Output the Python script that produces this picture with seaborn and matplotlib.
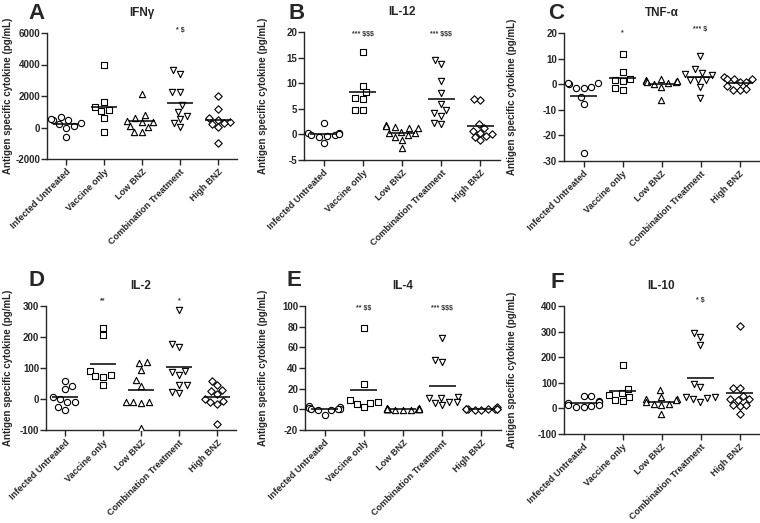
import warnings
import numpy as np
import pandas as pd
import matplotlib
matplotlib.use("Agg")
import matplotlib.pyplot as plt
import seaborn as sns

warnings.filterwarnings("ignore")
sns.set_style("ticks")
plt.rcParams["font.family"] = ["Liberation Sans", "DejaVu Sans"]
plt.rcParams["font.weight"] = "bold"
plt.rcParams["axes.unicode_minus"] = False

groups = ["Infected Untreated", "Vaccine only", "Low BNZ", "Combination Treatment", "High BNZ"]
markers = ["o", "s", "^", "v", "D"]

ifng = [[650, 500, 450, 550, 300, 200, 100, 0, -600],
        [3940, 1590, 1120, 1290, 1020, 590, -275],
        [2140, 590, 380, 380, 420, 805, 20, 100, -275, -275],
        [3410, 3620, 2245, 2245, 1400, 1015, 740, 570, 275, 20],
        [1970, 1190, 590, 380, 490, 275, 230, 60, -955]]
il12 = [[2.3, 0.2, -0.3, -0.2, 0.2, -0.1, -0.5, -1.6, 0.0],
        [16.0, 9.5, 8.2, 7.2, 6.9, 4.8, 4.8],
        [1.8, 1.5, 1.2, 1.3, 1.6, 0.3, 0.2, 0.5, -0.1, -0.5, -1.1, -2.6],
        [14.5, 13.7, 10.4, 8.0, 5.9, 4.7, 4.1, 3.6, 2.0, 2.3],
        [6.7, 6.9, 2.0, 1.2, 0.7, 0.3, -0.3, 0.0, -0.5, -1.1]]
tnfa = [[0.1, 0.6, 0.4, -1.4, -1.6, -0.9, -5.0, -7.7, -26.8],
        [11.9, 4.6, 1.8, 1.4, 2.0, -2.2, -1.4],
        [1.7, 1.4, 0.8, -0.1, 0.4, 1.4, 2.1, -0.9, -6.0, 1.0, 1.2],
        [11.0, 6.0, 3.4, 3.8, 4.3, 1.8, 1.8, 1.8, -0.9, -5.3],
        [3.0, 2.0, 2.0, 2.1, 0.8, 1.0, -1.8, -2.1, -2.1, -0.8]]
il2 = [[57, 43, 33, 0, 7, -11, -11, -34, -26],
       [230, 206, 89, 73, 72, 76, 44],
       [117, 120, 94, 60, 41, -10, -11, -14, -11, -95],
       [287, 179, 169, 91, 76, 88, 46, 46, 24, 18],
       [57, 44, 28, 25, 16, 0, -11, -16, -6, -80]]
il4 = [[3, 2, 1.5, 0.6, 0, 0, -0.6, -1, -5],
       [79, 25, 8.8, 7.5, 6.2, 5, 2.2],
       [1.2, 0.8, 0.5, 0.3, 0.1, 0, -0.2, -0.4, 1.0, 0.6, -0.3, 0.2],
       [69, 45.5, 47.6, 11, 12, 11, 7.5, 7.5, 6, 4],
       [2.5, 0.5, 0.3, 0, 0, 0, -0.2, -0.3, 0.1, 0.2]]
il10 = [[48, 48, 29, 25, 20, 13, 7, 9, 5, 12],
        [170, 77, 59, 51, 46, 31, 29],
        [72, 44, 35, 35, 26, 31, 18, 13, 18, -23],
        [294, 277, 246, 95, 82, 46, 38, 26, 42, 44],
        [323, 81, 78, 48, 35, 33, 35, 13, 9, 13, -23]]

titles = ["IFN\u03b3", "IL-12", "TNF-\u03b1", "IL-2", "IL-4", "IL-10"]
letters = ["A", "B", "C", "D", "E", "F"]
all_data = [ifng, il12, tnfa, il2, il4, il10]
yticks = [[-2000, 0, 2000, 4000, 6000],
          [-5, 0, 5, 10, 15, 20],
          [-30, -20, -10, 0, 10, 20],
          [-100, 0, 100, 200, 300],
          [-20, 0, 20, 40, 60, 80, 100],
          [-100, 0, 100, 200, 300, 400]]
# significance annotations: (group index, text, y)
annots = [[(3, "* $", 6150)],
          [(1, "*** $$$", 19.5), (3, "*** $$$", 19.5)],
          [(1, "*", 20), (3, "*** $", 21.5)],
          [(1, "**", 318), (3, "*", 318)],
          [(1, "** $$", 98), (3, "*** $$$", 98)],
          [(3, "* $", 420)]]

W, H = 760, 523
# pixel boxes: left, right, top, bottom
boxes = [(47, 237, 33, 159), (304, 500, 32, 160), (564, 759, 33, 161),
         (46, 236, 306, 430), (305, 501, 306, 430), (564, 759, 306, 434)]
ylab_px = [13, 268, 517, 13, 268, 517]
letter_px = [(28, 3), (288, 3), (548, 3), (29, 270), (287, 270), (550, 272)]

fig = plt.figure(figsize=(W / 100, H / 100), dpi=100)

for k in range(6):
    l, r, t, b = boxes[k]
    ax = fig.add_axes([l / W, 1 - b / H, (r - l) / W, (b - t) / H])
    data = all_data[k]
    df = pd.DataFrame({"group": [g for g, v in zip(groups, data) for _ in v],
                       "value": [x for v in data for x in v]})
    for g, m in zip(groups, markers):
        sub = df[df["group"] == g]
        sns.swarmplot(data=sub, x="group", y="value", order=groups, marker=m,
                      size=3.8 if m == "D" else 4.5, color="white",
                      edgecolor="black", linewidth=0.8, ax=ax, zorder=3)
    for i, v in enumerate(data):
        ax.hlines(np.mean(v), i - 0.34, i + 0.34, color="black", lw=1.1, zorder=4)
    yt = yticks[k]
    ax.set_ylim(yt[0], yt[-1])
    ax.set_yticks(yt)
    ax.set_xlim(-0.5, 4.5)
    ax.set_xticks(range(5))
    ax.set_xticklabels(groups, rotation=45, ha="right", rotation_mode="anchor",
                       fontsize=6.6, fontweight="bold")
    ax.tick_params(axis="y", labelsize=7, width=1, length=4, pad=1)
    ax.tick_params(axis="x", width=1, length=4, pad=2)
    for lab in ax.get_yticklabels():
        lab.set_fontweight("bold")
    ax.set_xlabel("")
    ax.set_ylabel("Antigen specific cytokine (pg/mL)", fontsize=7, fontweight="bold")
    ax.yaxis.set_label_coords((ylab_px[k] - l) / (r - l), 0.5)
    sns.despine(ax=ax)
    for s in ["left", "bottom"]:
        ax.spines[s].set_linewidth(1.0)
    ax.set_title(titles[k], fontsize=8.5, fontweight="bold", pad=12)
    for gi, txt, y in annots[k]:
        ax.text(gi, y, txt, ha="center", va="center", fontsize=5, color="#333333",
                fontweight="bold", parse_math=False)
    lx, ly = letter_px[k]
    fig.text(lx / W, 1 - ly / H, letters[k], fontsize=16, fontweight="bold",
             ha="left", va="top")

fig.savefig("out.png", dpi=100)
